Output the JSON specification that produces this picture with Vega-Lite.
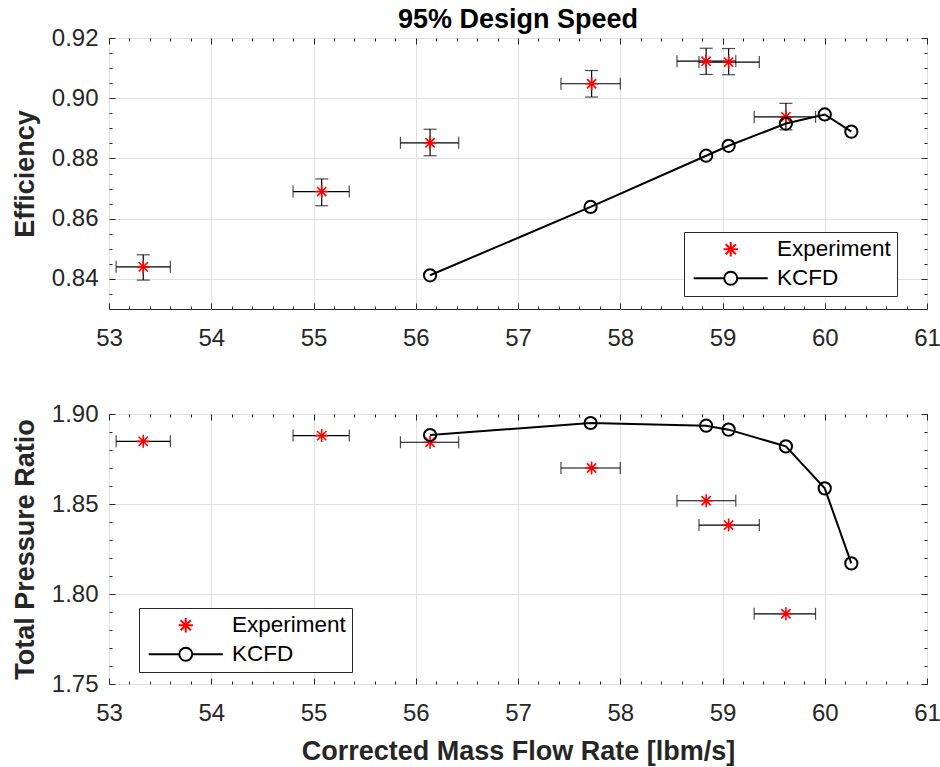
{
  "$schema": "https://vega.github.io/schema/vega-lite/v6.json",
  "padding": {"left": 10, "top": 5, "right": 5, "bottom": 5},
  "config": {
    "font": "Liberation Sans",
    "view": {"stroke": "#262626", "strokeWidth": 1},
    "axis": {"labelFont": "Liberation Sans", "labelFontSize": 24, "labelColor": "#262626", "titleFont": "Liberation Sans", "titleFontSize": 27, "titleFontWeight": "bold", "titleColor": "#262626", "gridColor": "#e0e0e0", "gridWidth": 1, "tickColor": "#262626", "tickWidth": 1, "labelFlush": false, "labelOverlap": false},
    "title": {"font": "Liberation Sans", "fontSize": 27, "fontWeight": "bold", "color": "#000000"},
    "legend": {"orient": "none", "title": null, "strokeColor": "#262626", "fillColor": "#ffffff", "padding": 6, "symbolSize": 169, "symbolStrokeWidth": 2, "symbolOffset": 29.5, "labelOffset": 35, "labelFont": "Liberation Sans", "labelFontSize": 22.5, "labelColor": "#000000", "rowPadding": 6}
  },
  "datasets": {
    "effExp": [
      {"series": "Experiment", "x": 53.335, "xlo": 53.07, "xhi": 53.60, "y": 0.844, "ylo": 0.8396, "yhi": 0.848},
      {"series": "Experiment", "x": 55.08, "xlo": 54.80, "xhi": 55.35, "y": 0.869, "ylo": 0.8643, "yhi": 0.8732},
      {"series": "Experiment", "x": 56.14, "xlo": 55.85, "xhi": 56.42, "y": 0.8852, "ylo": 0.8809, "yhi": 0.8897},
      {"series": "Experiment", "x": 57.72, "xlo": 57.42, "xhi": 58.00, "y": 0.9048, "ylo": 0.9004, "yhi": 0.9092},
      {"series": "Experiment", "x": 58.84, "xlo": 58.555, "xhi": 59.13, "y": 0.9123, "ylo": 0.9079, "yhi": 0.9166},
      {"series": "Experiment", "x": 59.06, "xlo": 58.77, "xhi": 59.36, "y": 0.912, "ylo": 0.9078, "yhi": 0.9165},
      {"series": "Experiment", "x": 59.62, "xlo": 59.31, "xhi": 59.91, "y": 0.8938, "ylo": 0.8895, "yhi": 0.8983}
    ],
    "effCfd": [
      {"series": "KCFD", "x": 56.14, "y": 0.8412},
      {"series": "KCFD", "x": 57.71, "y": 0.8639},
      {"series": "KCFD", "x": 58.84, "y": 0.8809},
      {"series": "KCFD", "x": 59.06, "y": 0.8842},
      {"series": "KCFD", "x": 59.62, "y": 0.8916},
      {"series": "KCFD", "x": 60.0, "y": 0.8946},
      {"series": "KCFD", "x": 60.26, "y": 0.8889}
    ],
    "prExp": [
      {"series": "Experiment", "x": 53.335, "xlo": 53.07, "xhi": 53.60, "y": 1.8848},
      {"series": "Experiment", "x": 55.08, "xlo": 54.80, "xhi": 55.35, "y": 1.888},
      {"series": "Experiment", "x": 56.14, "xlo": 55.85, "xhi": 56.42, "y": 1.8843},
      {"series": "Experiment", "x": 57.72, "xlo": 57.42, "xhi": 58.00, "y": 1.870},
      {"series": "Experiment", "x": 58.84, "xlo": 58.555, "xhi": 59.13, "y": 1.8518},
      {"series": "Experiment", "x": 59.06, "xlo": 58.77, "xhi": 59.36, "y": 1.8383},
      {"series": "Experiment", "x": 59.62, "xlo": 59.31, "xhi": 59.91, "y": 1.789}
    ],
    "prCfd": [
      {"series": "KCFD", "x": 56.14, "y": 1.8883},
      {"series": "KCFD", "x": 57.71, "y": 1.895},
      {"series": "KCFD", "x": 58.84, "y": 1.8935},
      {"series": "KCFD", "x": 59.06, "y": 1.8913},
      {"series": "KCFD", "x": 59.62, "y": 1.882},
      {"series": "KCFD", "x": 60.0, "y": 1.8587},
      {"series": "KCFD", "x": 60.26, "y": 1.817}
    ]
  },
  "resolve": {"scale": {"x": "independent", "y": "independent", "color": "independent", "shape": "independent"}, "legend": {"color": "independent", "shape": "independent"}},
  "spacing": 50,
  "vconcat": [
    {
      "width": 818,
      "height": 271,
      "title": {"text": "95% Design Speed", "anchor": "middle", "frame": "group", "offset": -8},
      "layer": [
        {
          "data": {"name": "effExp"},
          "mark": {"type": "rule", "color": "#000000", "strokeWidth": 1.2},
          "encoding": {
            "x": {"field": "xlo", "type": "quantitative", "scale": {"domain": [53, 61], "nice": false, "zero": false}, "axis": {"orient": "bottom", "values": [53, 54, 55, 56, 57, 58, 59, 60, 61], "format": "d", "grid": true, "ticks": false, "domain": false, "title": null, "labelPadding": 17}},
            "x2": {"field": "xhi"},
            "y": {"field": "y", "type": "quantitative", "scale": {"domain": [0.83, 0.92], "nice": false, "zero": false}, "axis": {"orient": "left", "values": [0.84, 0.86, 0.88, 0.9, 0.92], "format": ".2f", "grid": true, "ticks": false, "domain": false, "title": "Efficiency", "labelPadding": 11, "titlePadding": 12}}
          }
        },
        {
          "data": {"name": "effExp"},
          "mark": {"type": "tick", "orient": "vertical", "size": 12, "thickness": 1.2, "color": "#000000"},
          "encoding": {
            "x": {"field": "xlo", "type": "quantitative", "scale": {"domain": [53, 61], "nice": false, "zero": false}, "axis": {"orient": "top", "values": [53, 54, 55, 56, 57, 58, 59, 60, 61], "labels": false, "grid": false, "domain": false, "ticks": true, "tickSize": -6, "title": null}},
            "y": {"field": "y", "type": "quantitative", "scale": {"domain": [0.83, 0.92], "nice": false, "zero": false}, "axis": {"orient": "right", "values": [0.84, 0.86, 0.88, 0.9, 0.92], "labels": false, "grid": false, "domain": false, "ticks": true, "tickSize": -6, "title": null}}
          }
        },
        {
          "data": {"name": "effExp"},
          "mark": {"type": "tick", "orient": "vertical", "size": 12, "thickness": 1.2, "color": "#000000"},
          "encoding": {
            "x": {"field": "xhi", "type": "quantitative", "scale": {"domain": [53, 61], "nice": false, "zero": false}, "axis": {"orient": "bottom", "values": [53, 54, 55, 56, 57, 58, 59, 60, 61], "labels": false, "grid": false, "domain": false, "ticks": true, "tickSize": -6, "title": null}},
            "y": {"field": "y", "type": "quantitative", "scale": {"domain": [0.83, 0.92], "nice": false, "zero": false}, "axis": {"orient": "left", "values": [0.84, 0.86, 0.88, 0.9, 0.92], "labels": false, "grid": false, "domain": false, "ticks": true, "tickSize": -6, "title": null}}
          }
        },
        {
          "data": {"name": "effExp"},
          "mark": {"type": "rule", "color": "#000000", "strokeWidth": 1.2},
          "encoding": {
            "x": {"field": "x", "type": "quantitative", "scale": {"domain": [53, 61], "nice": false, "zero": false}, "axis": {"orient": "top", "values": [53.2,53.4,53.6,53.8,54.2,54.4,54.6,54.8,55.2,55.4,55.6,55.8,56.2,56.4,56.6,56.8,57.2,57.4,57.6,57.8,58.2,58.4,58.6,58.8,59.2,59.4,59.6,59.8,60.2,60.4,60.6,60.8], "labels": false, "grid": false, "domain": false, "ticks": true, "tickSize": -3, "title": null}},
            "y": {"field": "ylo", "type": "quantitative", "scale": {"domain": [0.83, 0.92], "nice": false, "zero": false}, "axis": {"orient": "right", "values": [0.83,0.835,0.845,0.85,0.855,0.865,0.87,0.875,0.885,0.89,0.895,0.905,0.91,0.915], "labels": false, "grid": false, "domain": false, "ticks": true, "tickSize": -3, "title": null}},
            "y2": {"field": "yhi"}
          }
        },
        {
          "data": {"name": "effExp"},
          "mark": {"type": "tick", "orient": "horizontal", "size": 13, "thickness": 1.2, "color": "#000000"},
          "encoding": {
            "x": {"field": "x", "type": "quantitative", "scale": {"domain": [53, 61], "nice": false, "zero": false}, "axis": {"orient": "bottom", "values": [53.2,53.4,53.6,53.8,54.2,54.4,54.6,54.8,55.2,55.4,55.6,55.8,56.2,56.4,56.6,56.8,57.2,57.4,57.6,57.8,58.2,58.4,58.6,58.8,59.2,59.4,59.6,59.8,60.2,60.4,60.6,60.8], "labels": false, "grid": false, "domain": false, "ticks": true, "tickSize": -3, "title": null}},
            "y": {"field": "ylo", "type": "quantitative", "scale": {"domain": [0.83, 0.92], "nice": false, "zero": false}, "axis": {"orient": "left", "values": [0.83,0.835,0.845,0.85,0.855,0.865,0.87,0.875,0.885,0.89,0.895,0.905,0.91,0.915], "labels": false, "grid": false, "domain": false, "ticks": true, "tickSize": -3, "title": null}}
          }
        },
        {
          "data": {"name": "effExp"},
          "mark": {"type": "tick", "orient": "horizontal", "size": 13, "thickness": 1.2, "color": "#000000"},
          "encoding": {
            "x": {"field": "x", "type": "quantitative", "scale": {"domain": [53, 61], "nice": false, "zero": false}, "axis": null},
            "y": {"field": "yhi", "type": "quantitative", "scale": {"domain": [0.83, 0.92], "nice": false, "zero": false}, "axis": null}
          }
        },
        {
          "data": {"name": "effExp"},
          "mark": {"type": "point", "filled": false, "size": 140, "strokeWidth": 1.6, "opacity": 1},
          "encoding": {
            "x": {"field": "x", "type": "quantitative", "scale": {"domain": [53, 61], "nice": false, "zero": false}, "axis": null},
            "y": {"field": "y", "type": "quantitative", "scale": {"domain": [0.83, 0.92], "nice": false, "zero": false}, "axis": null},
            "color": {"field": "series", "type": "nominal", "scale": {"domain": ["Experiment", "KCFD"], "range": ["#ff0000", "#000000"]},
              "legend": {"legendX": 575, "legendY": 194, "encode": {"symbols": {"update": {"size": {"value": 169}, "strokeWidth": {"value": 2}, "fill": {"value": "transparent"}, "opacity": {"value": 1}}}}}},
            "shape": {"field": "series", "type": "nominal", "scale": {"domain": ["Experiment", "KCFD"], "range": ["M0,-1.1L0,1.1M-1.1,0L1.1,0M-0.78,-0.78L0.78,0.78M-0.78,0.78L0.78,-0.78", "M-5.7,0L-1,0M1,0L5.7,0M1,0A1,1,0,1,1,-1,0A1,1,0,1,1,1,0"]},
              "legend": {"legendX": 575, "legendY": 194, "encode": {"symbols": {"update": {"size": {"value": 169}, "strokeWidth": {"value": 2}, "fill": {"value": "transparent"}, "opacity": {"value": 1}}}}}}
          }
        },
        {
          "data": {"name": "effCfd"},
          "mark": {"type": "line", "color": "#000000", "strokeWidth": 2},
          "encoding": {
            "x": {"field": "x", "type": "quantitative", "scale": {"domain": [53, 61], "nice": false, "zero": false}, "axis": null},
            "y": {"field": "y", "type": "quantitative", "scale": {"domain": [0.83, 0.92], "nice": false, "zero": false}, "axis": null}
          }
        },
        {
          "data": {"name": "effCfd"},
          "mark": {"type": "point", "filled": false, "shape": "circle", "size": 150, "strokeWidth": 2, "opacity": 1},
          "encoding": {
            "x": {"field": "x", "type": "quantitative", "scale": {"domain": [53, 61], "nice": false, "zero": false}, "axis": null},
            "y": {"field": "y", "type": "quantitative", "scale": {"domain": [0.83, 0.92], "nice": false, "zero": false}, "axis": null},
            "color": {"field": "series", "type": "nominal"}
          }
        }
      ]
    },
    {
      "width": 818,
      "height": 270,
      "layer": [
        {
          "data": {"name": "prExp"},
          "mark": {"type": "rule", "color": "#000000", "strokeWidth": 1.2},
          "encoding": {
            "x": {"field": "xlo", "type": "quantitative", "scale": {"domain": [53, 61], "nice": false, "zero": false}, "axis": {"orient": "bottom", "values": [53, 54, 55, 56, 57, 58, 59, 60, 61], "format": "d", "grid": true, "ticks": false, "domain": false, "title": "Corrected Mass Flow Rate [lbm/s]", "labelPadding": 17, "titlePadding": 13}},
            "x2": {"field": "xhi"},
            "y": {"field": "y", "type": "quantitative", "scale": {"domain": [1.75, 1.9], "nice": false, "zero": false}, "axis": {"orient": "left", "values": [1.75, 1.8, 1.85, 1.9], "format": ".2f", "grid": true, "ticks": false, "domain": false, "title": "Total Pressure Ratio", "labelPadding": 11, "titlePadding": 12}}
          }
        },
        {
          "data": {"name": "prExp"},
          "mark": {"type": "tick", "orient": "vertical", "size": 12, "thickness": 1.2, "color": "#000000"},
          "encoding": {
            "x": {"field": "xlo", "type": "quantitative", "scale": {"domain": [53, 61], "nice": false, "zero": false}, "axis": {"orient": "top", "values": [53, 54, 55, 56, 57, 58, 59, 60, 61], "labels": false, "grid": false, "domain": false, "ticks": true, "tickSize": -6, "title": null}},
            "y": {"field": "y", "type": "quantitative", "scale": {"domain": [1.75, 1.9], "nice": false, "zero": false}, "axis": {"orient": "right", "values": [1.75, 1.8, 1.85, 1.9], "labels": false, "grid": false, "domain": false, "ticks": true, "tickSize": -6, "title": null}}
          }
        },
        {
          "data": {"name": "prExp"},
          "mark": {"type": "tick", "orient": "vertical", "size": 12, "thickness": 1.2, "color": "#000000"},
          "encoding": {
            "x": {"field": "xhi", "type": "quantitative", "scale": {"domain": [53, 61], "nice": false, "zero": false}, "axis": {"orient": "bottom", "values": [53, 54, 55, 56, 57, 58, 59, 60, 61], "labels": false, "grid": false, "domain": false, "ticks": true, "tickSize": -6, "title": null}},
            "y": {"field": "y", "type": "quantitative", "scale": {"domain": [1.75, 1.9], "nice": false, "zero": false}, "axis": {"orient": "left", "values": [1.75, 1.8, 1.85, 1.9], "labels": false, "grid": false, "domain": false, "ticks": true, "tickSize": -6, "title": null}}
          }
        },
        {
          "data": {"name": "prExp"},
          "mark": {"type": "point", "filled": false, "size": 140, "strokeWidth": 1.6, "opacity": 1},
          "encoding": {
            "x": {"field": "x", "type": "quantitative", "scale": {"domain": [53, 61], "nice": false, "zero": false}, "axis": {"orient": "top", "values": [53.2,53.4,53.6,53.8,54.2,54.4,54.6,54.8,55.2,55.4,55.6,55.8,56.2,56.4,56.6,56.8,57.2,57.4,57.6,57.8,58.2,58.4,58.6,58.8,59.2,59.4,59.6,59.8,60.2,60.4,60.6,60.8], "labels": false, "grid": false, "domain": false, "ticks": true, "tickSize": -3, "title": null}},
            "y": {"field": "y", "type": "quantitative", "scale": {"domain": [1.75, 1.9], "nice": false, "zero": false}, "axis": {"orient": "right", "values": [1.76,1.77,1.78,1.79,1.81,1.82,1.83,1.84,1.86,1.87,1.88,1.89], "labels": false, "grid": false, "domain": false, "ticks": true, "tickSize": -3, "title": null}},
            "color": {"field": "series", "type": "nominal", "scale": {"domain": ["Experiment", "KCFD"], "range": ["#ff0000", "#000000"]},
              "legend": {"legendX": 30, "legendY": 194, "encode": {"symbols": {"update": {"size": {"value": 169}, "strokeWidth": {"value": 2}, "fill": {"value": "transparent"}, "opacity": {"value": 1}}}}}},
            "shape": {"field": "series", "type": "nominal", "scale": {"domain": ["Experiment", "KCFD"], "range": ["M0,-1.1L0,1.1M-1.1,0L1.1,0M-0.78,-0.78L0.78,0.78M-0.78,0.78L0.78,-0.78", "M-5.7,0L-1,0M1,0L5.7,0M1,0A1,1,0,1,1,-1,0A1,1,0,1,1,1,0"]},
              "legend": {"legendX": 30, "legendY": 194, "encode": {"symbols": {"update": {"size": {"value": 169}, "strokeWidth": {"value": 2}, "fill": {"value": "transparent"}, "opacity": {"value": 1}}}}}}
          }
        },
        {
          "data": {"name": "prCfd"},
          "mark": {"type": "line", "color": "#000000", "strokeWidth": 2},
          "encoding": {
            "x": {"field": "x", "type": "quantitative", "scale": {"domain": [53, 61], "nice": false, "zero": false}, "axis": {"orient": "bottom", "values": [53.2,53.4,53.6,53.8,54.2,54.4,54.6,54.8,55.2,55.4,55.6,55.8,56.2,56.4,56.6,56.8,57.2,57.4,57.6,57.8,58.2,58.4,58.6,58.8,59.2,59.4,59.6,59.8,60.2,60.4,60.6,60.8], "labels": false, "grid": false, "domain": false, "ticks": true, "tickSize": -3, "title": null}},
            "y": {"field": "y", "type": "quantitative", "scale": {"domain": [1.75, 1.9], "nice": false, "zero": false}, "axis": {"orient": "left", "values": [1.76,1.77,1.78,1.79,1.81,1.82,1.83,1.84,1.86,1.87,1.88,1.89], "labels": false, "grid": false, "domain": false, "ticks": true, "tickSize": -3, "title": null}}
          }
        },
        {
          "data": {"name": "prCfd"},
          "mark": {"type": "point", "filled": false, "shape": "circle", "size": 150, "strokeWidth": 2, "opacity": 1},
          "encoding": {
            "x": {"field": "x", "type": "quantitative", "scale": {"domain": [53, 61], "nice": false, "zero": false}, "axis": null},
            "y": {"field": "y", "type": "quantitative", "scale": {"domain": [1.75, 1.9], "nice": false, "zero": false}, "axis": null},
            "color": {"field": "series", "type": "nominal"}
          }
        }
      ]
    }
  ]
}
